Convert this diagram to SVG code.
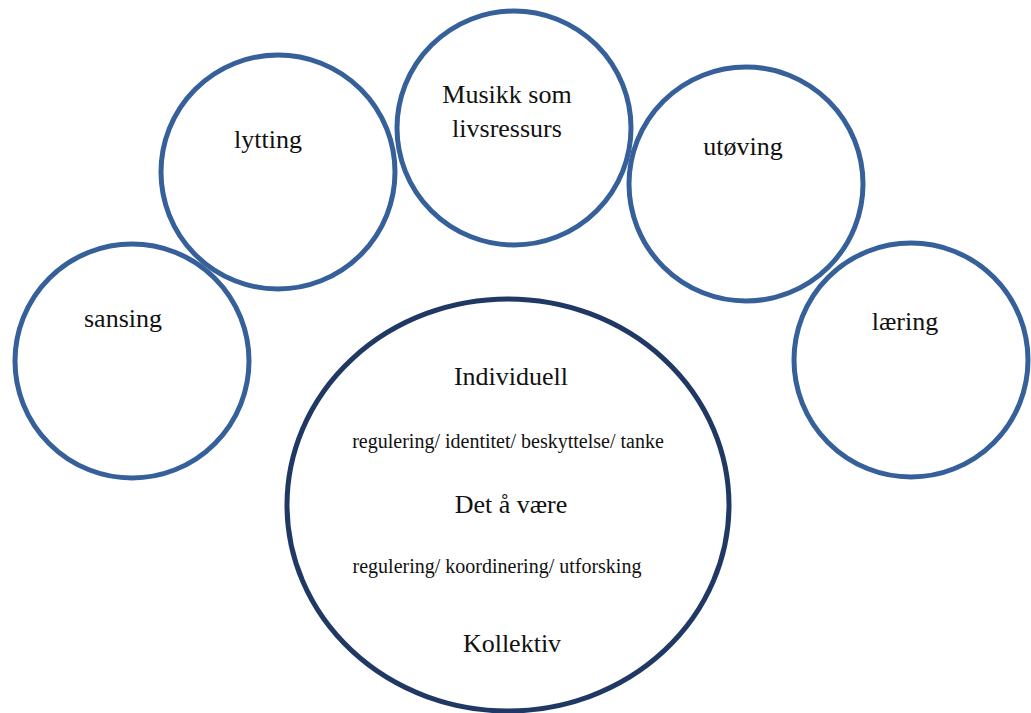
<svg xmlns="http://www.w3.org/2000/svg" width="1031" height="713" viewBox="0 0 1031 713">
  <style>
    .c { fill: none; stroke: #36609a; stroke-width: 5; }
    .big { fill: none; stroke: #1f3864; stroke-width: 5; }
    text { font-family: "Liberation Serif", "DejaVu Serif", "Noto Serif", "Times New Roman", serif; fill: #111; text-anchor: middle; }
    .t { font-size: 26px; }
    .s { font-size: 20px; }
  </style>
  <rect width="1031" height="713" fill="#ffffff"/>
  <g id="connectors"/>
  <g id="node-sansing">
    <circle class="c" cx="132" cy="361" r="117"/>
    <text class="t" x="123" y="327" font-family="Liberation Serif, serif">sansing</text>
  </g>
  <g id="node-lytting">
    <circle class="c" cx="278" cy="172" r="117"/>
    <text class="t" x="268" y="148" font-family="Liberation Serif, serif">lytting</text>
  </g>
  <g id="node-musikk">
    <circle class="c" cx="514" cy="128" r="117"/>
    <text class="t" x="507" y="103" font-family="Liberation Serif, serif">Musikk som</text>
    <text class="t" x="507" y="137" font-family="Liberation Serif, serif">livsressurs</text>
  </g>
  <g id="node-utoving">
    <circle class="c" cx="746" cy="184" r="117"/>
    <text class="t" x="743" y="155" font-family="Liberation Serif, serif">utøving</text>
  </g>
  <g id="node-laering">
    <circle class="c" cx="911" cy="360" r="117"/>
    <text class="t" x="905" y="330" font-family="Liberation Serif, serif">læring</text>
  </g>
  <g id="node-center">
    <ellipse class="big" cx="508" cy="505" rx="221" ry="206"/>
    <text class="t" x="511" y="385" font-family="Liberation Serif, serif">Individuell</text>
    <text class="s" x="508" y="448" font-family="Liberation Serif, serif">regulering/ identitet/ beskyttelse/ tanke</text>
    <text class="t" x="511" y="513" font-family="Liberation Serif, serif">Det å være</text>
    <text class="s" x="497" y="573" font-family="Liberation Serif, serif">regulering/ koordinering/ utforsking</text>
    <text class="t" x="512" y="652" font-family="Liberation Serif, serif">Kollektiv</text>
  </g>
</svg>
